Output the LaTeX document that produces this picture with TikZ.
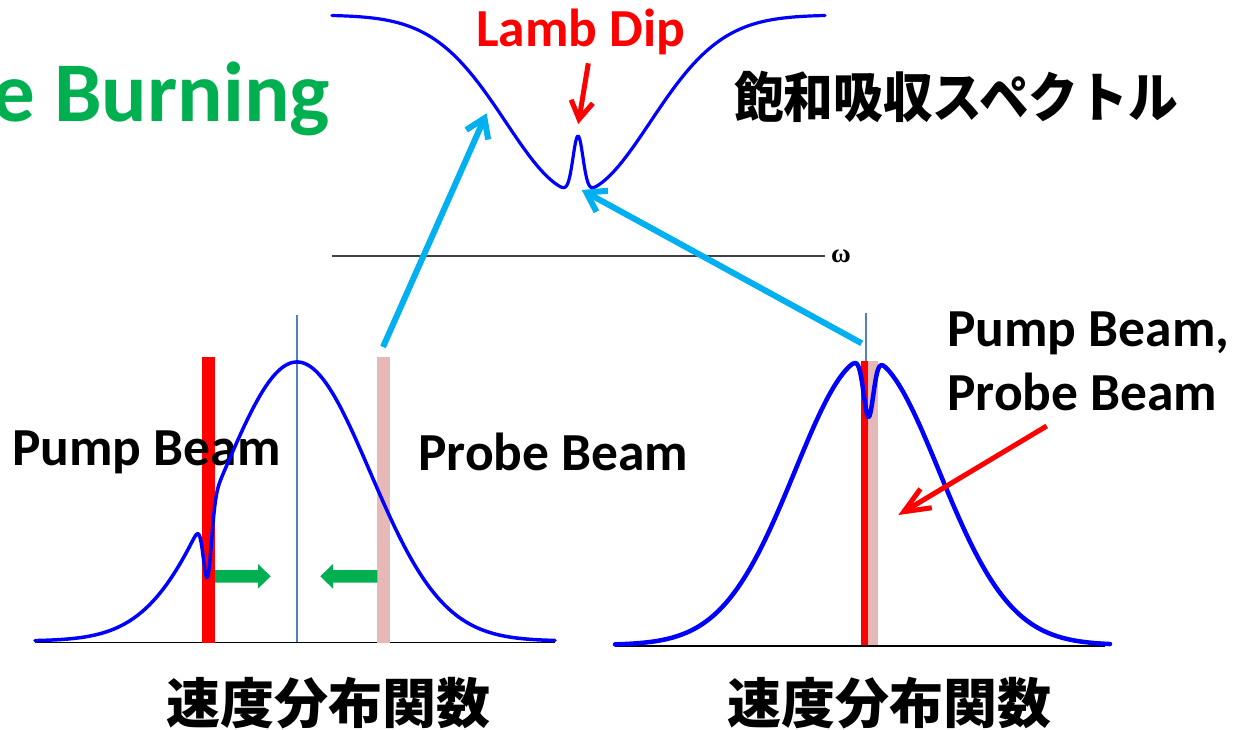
\documentclass[tikz,border=0pt]{standalone}
\usepackage{fontspec}
\usepackage{graphicx}
\setmainfont{Carlito}
\newfontfamily\jpfont{Noto Sans CJK JP}
\newfontfamily\omfont{Liberation Serif}
\usetikzlibrary{arrows.meta}
\definecolor{curveblue}{RGB}{0,0,255}
\definecolor{axisgray}{RGB}{64,64,64}
\definecolor{cyanarrow}{RGB}{0,176,240}
\definecolor{greenarrow}{RGB}{0,176,80}
\definecolor{pinkbar}{RGB}{230,185,184}
\definecolor{centerblue}{RGB}{79,129,189}
\begin{document}
\begin{tikzpicture}[x=1pt,y=-1pt,
  lbl/.style={inner sep=0pt, anchor=base west, font=\fontsize{53.5}{64}\selectfont\bfseries},
  jplbl/.style={inner sep=0pt, anchor=base, font=\fontsize{54}{60}\selectfont\jpfont\bfseries},
  curve/.style={curveblue, line width=3.5pt, line join=round, line cap=round},
  axisline/.style={black, line width=1.5pt},
  centerln/.style={centerblue, line width=2pt},
  cyanarr/.style={cyanarrow, line width=6pt, -{Straight Barb[length=18pt,width=24pt]}},
  redarr/.style={red, line width=5pt, -{Straight Barb[length=18pt,width=22pt]}},
  greenblock/.style={fill=greenarrow}
]
\useasboundingbox (0,0) rectangle (1234,729);

% axes
\draw[axisline, axisgray] (332,256) -- (825,256);
\draw[axisline] (35,642.7) -- (555,642.7);
\draw[axisline] (615,646) -- (1105,646);
\node[inner sep=0pt, font=\fontsize{27}{30}\selectfont\omfont\bfseries] (omega) at (841,256) {ω};

% center lines
\draw[centerln] (297,315) -- (297,642);
\draw[centerln] (866,313) -- (866,645);

% beams
\fill[red] (202.3,357) rectangle (215,643);
\fill[pinkbar] (377.3,357) rectangle (390,643);
\fill[red] (861.3,360.7) rectangle (868,645);
\fill[pinkbar] (868,360.7) rectangle (877.7,645);

% labels
\node[inner sep=0pt, anchor=base west, text=greenarrow, font=\fontsize{85}{96}\selectfont\bfseries] (title) at (-8,121.7) {e Burning};
\node[lbl, text=red] (lamb) at (476,46.7) {Lamb Dip};
\node[lbl] (pumpL) at (12,465) {Pump Beam};
\node[lbl] (probeL) at (418,470) {Probe Beam};
\node[lbl] (pumpR) at (947,346.7) {Pump Beam,};
\node[lbl] (probeR) at (947,410) {Probe Beam};
\node[jplbl] (vdistL) at (328,723) {速度分布関数};
\node[jplbl] (vdistR) at (889,723) {速度分布関数};
\node[inner sep=0pt, anchor=base, font=\fontsize{54}{60}\selectfont\jpfont\bfseries] (satabs) at (956,117) {\scalebox{0.92}[1]{飽和吸収スペクトル}};

% curves
\draw[curve, line width=3.2pt] plot[domain=332:825, samples=600]
  (\x, {15+177*exp(-0.5*((\x-578)/72)*((\x-578)/72)) - 56*exp(-min(0.5*((\x-578)/5)*((\x-578)/5),40))});
\draw[curve] plot[domain=35:555, samples=600]
  (\x, {641-279*exp(-0.5*((\x-297)/73)*((\x-297)/73)) + 67.6*exp(-min(0.5*((\x-207.5)/4)*((\x-207.5)/4),40))});
\draw[curve, line width=4.5pt] plot[domain=615:1110, samples=600]
  (\x, {645-287*exp(-0.5*((\x-867)/72)*((\x-867)/72)) + 59*exp(-min(0.5*((\x-868.5)/4.8)*((\x-868.5)/4.8),40))});

% green block arrows
\fill[greenblock] (215,570) -- (258,570) -- (258,564) -- (270.7,576.3) -- (258,588.6) -- (258,582.6) -- (215,582.6) -- cycle;
\fill[greenblock] (377.3,570) -- (333,570) -- (333,564) -- (320.3,576.3) -- (333,588.6) -- (333,582.6) -- (377.3,582.6) -- cycle;

% connectors
\coordinate (probeTop) at (383,347);
\coordinate (tipA) at (486.7,113.3);
\coordinate (rightTop) at (861.7,343.3);
\coordinate (tipB) at (581.7,190);
\coordinate (lambStart) at (588.3,63.3);
\coordinate (lambTip) at (578.3,124);
\coordinate (beamStart) at (1046.7,426);
\coordinate (beamTip) at (898.3,515);
\draw[cyanarr] (probeTop) -- (tipA);
\draw[cyanarr] (rightTop) -- (tipB);
\draw[redarr] (lambStart) -- (lambTip);
\draw[redarr, -{Straight Barb[length=26pt,width=22pt]}] (beamStart) -- (beamTip);
\end{tikzpicture}
\end{document}
